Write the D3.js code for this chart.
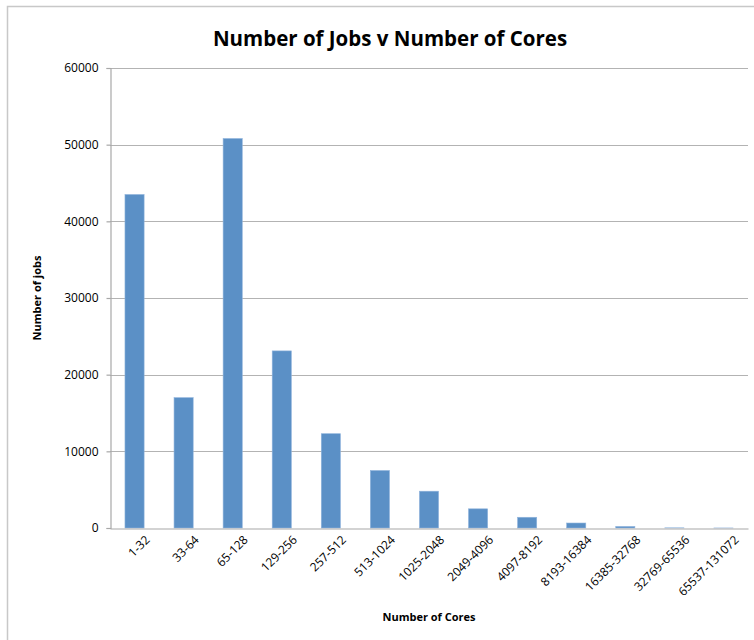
<!DOCTYPE html>
<html>
<head>
<meta charset="utf-8">
<script src="https://cdn.jsdelivr.net/npm/d3@7"></script>
<style>
  html, body { margin: 0; padding: 0; background: #fff; }
  svg { display: block; }
  text { font-family: "Open Sans", "Noto Sans", sans-serif; }
</style>
</head>
<body>
<svg id="chart" width="754" height="640"></svg>
<script>
const categories = ["1-32","33-64","65-128","129-256","257-512","513-1024","1025-2048","2049-4096","4097-8192","8193-16384","16385-32768","32769-65536","65537-131072"];
const jobs = [43500, 17000, 50800, 23100, 12300, 7500, 4800, 2500, 1400, 650, 200, 20, 5];
const yTicks = [0, 10000, 20000, 30000, 40000, 50000, 60000];

const svg = d3.select("#chart");
const m = { left: 110, right: 748, top: 68, bottom: 528 };

// outer chart border
svg.append("rect").attr("x", 7.5).attr("y", 6.5).attr("width", 800).attr("height", 700)
  .attr("fill", "none").attr("stroke", "#c8c8c8").attr("stroke-width", 1.5);

const x = d3.scaleBand().domain(categories).range([m.left, m.right]).paddingInner(0.61).paddingOuter(0.305);
const y = d3.scaleLinear().domain([0, 60000]).range([m.bottom, m.top]);

// gridlines
svg.append("g").selectAll("line").data(yTicks.filter(d => d > 0)).join("line")
  .attr("x1", m.left).attr("x2", m.right)
  .attr("y1", d => Math.round(y(d)) + 0.5).attr("y2", d => Math.round(y(d)) + 0.5)
  .attr("stroke", "#b3b3b3").attr("stroke-width", 1.2);

// y axis
const yAxis = svg.append("g").attr("transform", `translate(${m.left + 0.5},0)`)
  .call(d3.axisLeft(y).tickValues(yTicks).tickSize(4).tickPadding(8).tickFormat(d3.format("d")));
yAxis.attr("font-size", null).attr("font-family", null);
yAxis.select(".domain").attr("stroke", "#a8a8a8").attr("stroke-width", 1.2);
yAxis.selectAll(".tick line").attr("stroke", "#a8a8a8").attr("stroke-width", 1.2);
yAxis.selectAll(".tick text").attr("font-size", 12).attr("fill", "#000");

// bars
svg.append("g").selectAll("rect").data(categories).join("rect")
  .attr("x", d => x(d))
  .attr("width", x.bandwidth())
  .attr("y", (d, i) => y(jobs[i]))
  .attr("height", (d, i) => y(0) - y(jobs[i]))
  .attr("fill", "#5b90c6")
  .attr("stroke", "#8fb3dc").attr("stroke-width", 0.6);

// x axis
const xAxis = svg.append("g").attr("transform", `translate(0,${m.bottom + 0.5})`)
  .call(d3.axisBottom(x).tickSize(0).tickPadding(10).tickSizeOuter(0));
xAxis.attr("font-size", null).attr("font-family", null);
xAxis.select(".domain").attr("stroke", "#a8a8a8").attr("stroke-width", 1.2);
xAxis.selectAll(".tick text")
  .attr("font-size", 12).attr("fill", "#000")
  .attr("text-anchor", "end")
  .attr("dy", "0.35em")
  .attr("transform", "translate(6,2) rotate(-45)");

// title
svg.append("text").attr("x", 390).attr("y", 46).attr("text-anchor", "middle")
  .attr("font-size", 20.5).attr("font-weight", "bold").text("Number of Jobs v Number of Cores");

// axis titles
svg.append("text").attr("transform", "translate(41,298) rotate(-90)").attr("text-anchor", "middle")
  .attr("font-size", 11).attr("font-weight", "bold").text("Number of jobs");
svg.append("text").attr("x", 429).attr("y", 621).attr("text-anchor", "middle")
  .attr("font-size", 11).attr("font-weight", "bold").text("Number of Cores");
</script>
</body>
</html>
